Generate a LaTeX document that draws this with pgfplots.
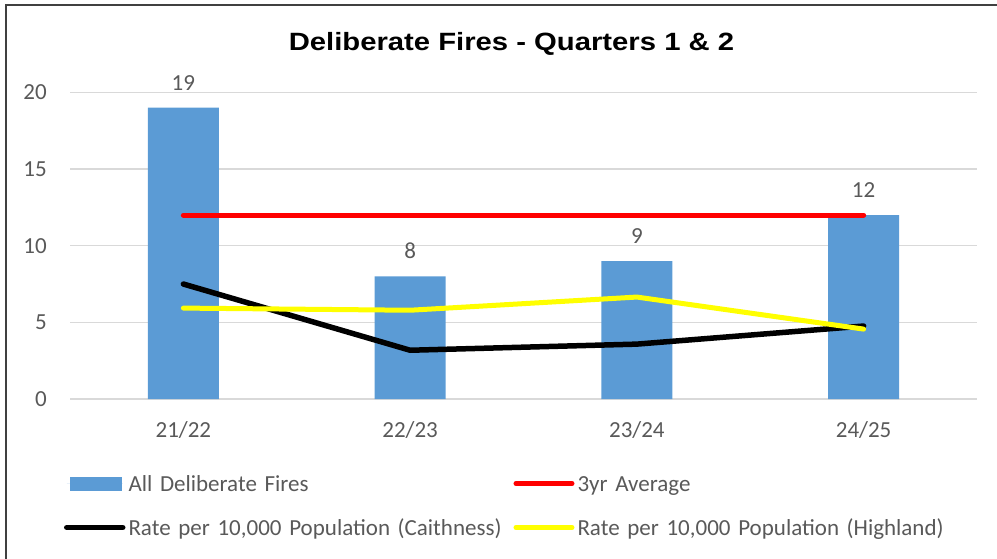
\documentclass[border=0pt]{standalone}
\usepackage{pgfplots}
\pgfplotsset{compat=1.18}
\usepackage{fontspec}
\setmainfont{Carlito}
\newfontfamily\titlefont[FakeStretch=1.17]{Liberation Sans}
\definecolor{barblue}{HTML}{5B9BD5}
\definecolor{txtgray}{HTML}{595959}
\definecolor{gridgray}{HTML}{D9D9D9}
\definecolor{brd}{HTML}{404040}
\definecolor{yel}{HTML}{FFFF00}
\definecolor{redl}{HTML}{FF0000}
\begin{document}
\begin{tikzpicture}
\begin{axis}[
  at={(0bp,0bp)}, anchor=south west,
  scale only axis, width=907bp, height=306.6bp,
  xmin=-0.5, xmax=3.5, ymin=0, ymax=20,
  xtick={0,1,2,3}, xticklabels={21/22,22/23,23/24,24/25},
  ytick={0,5,10,15,20},
  ymajorgrids, major grid style={gridgray, line width=1.5bp},
  axis line style={draw=none}, major tick length=0pt,
  tick label style={font=\fontsize{23bp}{27bp}\selectfont, text=txtgray},
  /pgf/number format/assume math mode=true,
  yticklabel style={anchor=east, inner sep=0pt, xshift=-23bp},
  xticklabel style={anchor=base, inner sep=0pt, yshift=-38bp},
  clip=false,
  title={Deliberate Fires - Quarters 1 \& 2},
  title style={font=\titlefont\bfseries\fontsize{25bp}{30bp}\selectfont, anchor=base, at={(0.5,1)}, yshift=36bp, xshift=-12bp, inner sep=0pt},
  legend columns=2,
  legend cell align=left,
  legend style={draw=none, fill=none, at={(0,0)}, anchor=north west, xshift=-6bp, yshift=-77bp, inner sep=0pt, outer sep=0pt, column sep=3bp, row sep=29bp, font=\fontsize{23bp}{27bp}\selectfont, text=txtgray, nodes={inner sep=0pt, text width=380bp, align=left, text height=15bp, text depth=0bp, anchor=west},
    /tikz/every even column/.append style={column sep=5bp}},
]
\addplot[ybar, bar width=71bp, bar shift=0pt, fill=barblue, draw=none,
  nodes near coords,
  nodes near coords style={font=\fontsize{23bp}{27bp}\selectfont, text=txtgray, anchor=south, inner sep=0pt, yshift=17bp},
  legend image code/.code={\fill[barblue] (3bp,-7bp) rectangle (55bp,7bp); \path (0bp,0bp) -- (56bp,0bp);}]
  coordinates {(0,19) (1,8) (2,9) (3,12)};
\addlegendentry{All Deliberate Fires}
\addplot[redl, line width=5bp, line cap=round,
  legend image code/.code={\draw[redl, line width=5bp, line cap=round] (2.5bp,0bp) -- (53.5bp,0bp); \path (0bp,0bp) -- (56bp,0bp);}]
  coordinates {(0,12) (3,12)};
\addlegendentry{3yr Average}
\addplot[black, line width=5.5bp, line cap=round, line join=round,
  legend image code/.code={\draw[black, line width=5.5bp, line cap=round] (2.5bp,0bp) -- (53.5bp,0bp); \path (0bp,0bp) -- (56bp,0bp);}]
  coordinates {(0,7.5) (1,3.18) (2,3.58) (3,4.76)};
\addlegendentry{Rate per 10,000 Population (Caithness)}
\addplot[yel, line width=5bp, line cap=round, line join=round,
  legend image code/.code={\draw[yel, line width=5bp, line cap=round] (2.5bp,0bp) -- (53.5bp,0bp); \path (0bp,0bp) -- (56bp,0bp);}]
  coordinates {(0,5.93) (1,5.79) (2,6.65) (3,4.56)};
\addlegendentry{Rate per 10,000 Population (Highland)}
\end{axis}
\draw[brd, line width=2bp] (930bp,394bp) -- (-64bp,394bp) -- (-64bp,-163bp);
\pgfresetboundingbox
\useasboundingbox (-70bp,-160bp) rectangle (927bp,399bp);
\end{tikzpicture}
\end{document}
